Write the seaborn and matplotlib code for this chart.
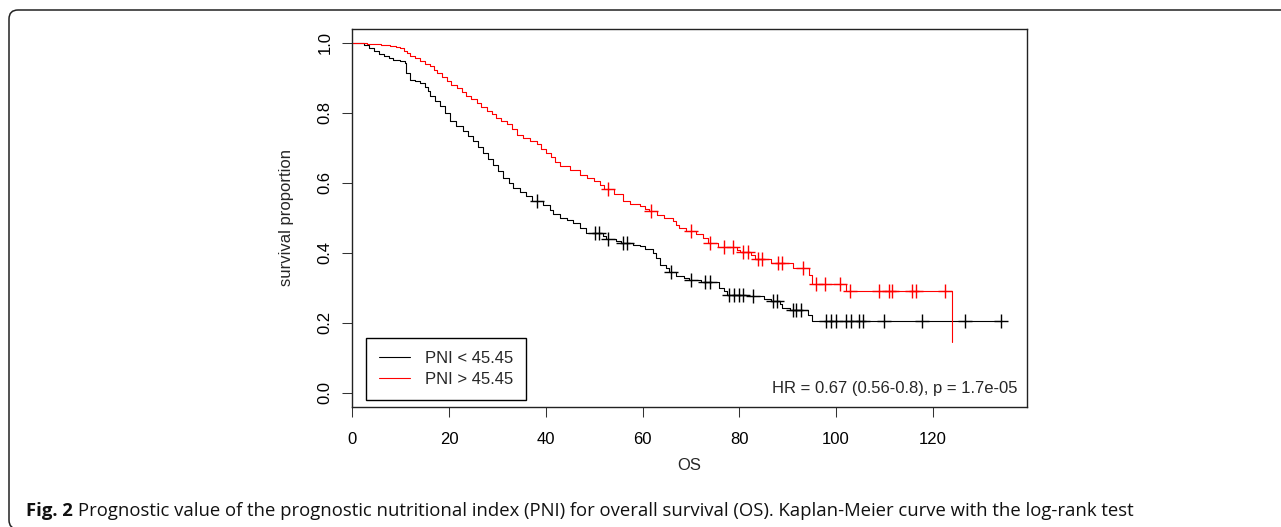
import numpy as np
import pandas as pd
import matplotlib
matplotlib.use("Agg")
import matplotlib.pyplot as plt
import seaborn as sns
from matplotlib.patches import FancyBboxPatch
from matplotlib.transforms import IdentityTransform

# Kaplan-Meier curves: event time (months) and survival after the drop
low_times = [0, 2.5, 3.5, 4.4, 5.5, 6.5, 7.5, 8.5, 9.8, 10.9, 11.2, 12.0, 13.0, 14.0,
             15.0, 15.7, 16.0, 17.0, 18.1, 19.2, 20.2, 21.5, 22.9, 24.0, 25.0, 26.0,
             27.1, 28.1, 29.1, 30.2, 31.2, 32.3, 33.3, 34.6, 36.0, 37.2, 39.5, 40.8,
             41.5, 43.0, 44.3, 45.6, 47.0, 48.4, 51.8, 52.5, 54.5, 55.5, 58.0, 59.4,
             60.5, 62.1, 62.8, 63.5, 64.8, 65.5, 67.0, 68.5, 69.7, 72.0, 75.9, 76.8,
             77.5, 82.0, 85.0, 86.5, 88.4, 88.9, 90.5, 94.1, 95.1]
low_surv = [1.0, 0.993, 0.985, 0.975, 0.968, 0.961, 0.955, 0.951, 0.946, 0.942, 0.913,
            0.894, 0.889, 0.885, 0.872, 0.861, 0.847, 0.833, 0.818, 0.799, 0.775, 0.762,
            0.747, 0.732, 0.718, 0.702, 0.685, 0.668, 0.651, 0.632, 0.613, 0.599, 0.585,
            0.573, 0.561, 0.547, 0.535, 0.523, 0.509, 0.500, 0.494, 0.485, 0.470, 0.456,
            0.447, 0.439, 0.433, 0.428, 0.423, 0.418, 0.409, 0.399, 0.385, 0.366, 0.355,
            0.344, 0.334, 0.328, 0.323, 0.315, 0.299, 0.289, 0.280, 0.275, 0.268, 0.263,
            0.252, 0.242, 0.237, 0.222, 0.205]
low_censor = [38.1, 50.1, 51.0, 52.8, 55.9, 56.8, 65.9, 70.0, 73.0, 74.0, 77.8, 79.0,
              80.0, 80.7, 82.9, 86.9, 87.8, 91.0, 91.8, 92.7, 97.9, 98.9, 99.9, 102.0,
              103.0, 104.7, 105.6, 109.9, 117.8, 126.7, 134.0]

high_times = [0, 3.0, 6.0, 7.8, 9.0, 9.9, 10.6, 11.3, 12.0, 13.0, 14.0, 15.0, 16.1, 16.8,
              17.5, 18.5, 19.5, 20.5, 21.6, 22.6, 23.6, 24.6, 25.7, 26.7, 27.8, 28.8,
              29.8, 30.8, 31.9, 33.0, 34.0, 35.3, 36.7, 38.1, 39.0, 40.1, 41.0, 42.0,
              42.9, 44.9, 47.0, 48.5, 50.0, 51.1, 52.0, 54.0, 55.9, 57.5, 59.4, 60.5,
              61.3, 63.0, 64.5, 66.2, 67.0, 67.6, 69.0, 71.0, 72.4, 73.5, 75.5, 79.5,
              80.2, 82.5, 83.3, 86.5, 91.0, 94.5, 95.1, 102.0, 123.9]
high_surv = [1.0, 0.996, 0.993, 0.990, 0.986, 0.983, 0.976, 0.970, 0.962, 0.955, 0.947,
             0.940, 0.932, 0.922, 0.913, 0.901, 0.889, 0.880, 0.870, 0.858, 0.847, 0.838,
             0.828, 0.816, 0.804, 0.795, 0.785, 0.776, 0.766, 0.752, 0.737, 0.727, 0.718,
             0.709, 0.697, 0.685, 0.672, 0.660, 0.647, 0.635, 0.623, 0.613, 0.604, 0.594,
             0.583, 0.566, 0.547, 0.540, 0.532, 0.525, 0.518, 0.508, 0.499, 0.489, 0.479,
             0.470, 0.461, 0.452, 0.442, 0.428, 0.415, 0.408, 0.401, 0.392, 0.382, 0.370,
             0.356, 0.335, 0.311, 0.289, 0.144]
high_censor = [52.8, 61.8, 70.0, 74.0, 76.9, 78.6, 80.7, 81.7, 83.8, 84.7, 87.9, 88.9,
               93.1, 95.8, 97.7, 100.8, 102.8, 108.9, 110.9, 111.6, 115.7, 116.6, 122.6]

group_labels = ["PNI < 45.45", "PNI > 45.45"]
group_colors = ["black", "red"]
x_ticks = [0, 20, 40, 60, 80, 100, 120]
y_ticks = [0.0, 0.2, 0.4, 0.6, 0.8, 1.0]
stat_text = "HR = 0.67 (0.56-0.8), p = 1.7e-05"
caption_bold = "Fig. 2"
caption_rest = ("Prognostic value of the prognostic nutritional index (PNI) for overall "
                "survival (OS). Kaplan-Meier curve with the log-rank test")


def km_frames(times, surv, censor):
    times, surv, censor = np.asarray(times), np.asarray(surv), np.asarray(censor)
    x, y = times, surv
    if censor.max() > times.max():
        x = np.append(x, censor.max())
        y = np.append(y, surv[-1])
    curve = pd.DataFrame({"time": x, "surv": y})
    idx = np.searchsorted(times, censor, side="right") - 1
    marks = pd.DataFrame({"time": censor, "surv": surv[idx]})
    return curve, marks


sns.set_theme(style="ticks")
plt.rcParams["font.family"] = ["Liberation Sans", "DejaVu Sans"]

fig = plt.figure(figsize=(12.81, 5.27), dpi=100)
ax = fig.add_axes([0.27502, 0.22827, 0.52646, 0.71765])

handles = []
groups = [(low_times, low_surv, low_censor), (high_times, high_surv, high_censor)]
for (t, s, c), color, label in zip(groups, group_colors, group_labels):
    curve, marks = km_frames(t, s, c)
    sns.lineplot(data=curve, x="time", y="surv", ax=ax, color=color, linewidth=0.8,
                 drawstyle="steps-post", sort=False, estimator=None)
    sns.scatterplot(data=marks, x="time", y="surv", ax=ax, color=color, marker="+",
                    s=100, linewidth=1.0, zorder=3)
    handles.append(ax.lines[-1])

ax.set_xlim(0, 139.4)
ax.set_ylim(-0.04, 1.04)
ax.set_xticks(x_ticks)
ax.set_yticks(y_ticks)
ax.set_xticklabels([str(v) for v in x_ticks])
ax.set_yticklabels([f"{v:.1f}" for v in y_ticks])
for lbl in ax.get_yticklabels():
    lbl.set_rotation(90)
    lbl.set_va("center")
ax.tick_params(axis="both", direction="out", length=7.2, width=0.75, color="#333333",
               labelsize=12, labelcolor="black")
ax.tick_params(axis="x", pad=11)
ax.tick_params(axis="y", pad=7)
for sp in ax.spines.values():
    sp.set_visible(True)
    sp.set_color("#222222")
    sp.set_linewidth(1.0)

ax.set_xlabel("OS", fontsize=12, labelpad=8)
ax.set_ylabel("survival proportion", fontsize=12, labelpad=17)

leg = ax.legend(handles, group_labels, loc="lower left", bbox_to_anchor=(0.0203, 0.0177),
                borderaxespad=0, frameon=True, fancybox=False, edgecolor="black",
                framealpha=1, handlelength=1.85, handletextpad=0.88, borderpad=0.8,
                labelspacing=0.33, fontsize=12)
leg.get_frame().set_linewidth(1.0)

ax.text(0.987, 0.049, stat_text, transform=ax.transAxes, ha="right", va="center",
        fontsize=12)

# rounded panel border around the whole figure
border = FancyBboxPatch((9, -2), 1300, 519, boxstyle="round,pad=0,rounding_size=9",
                        transform=IdentityTransform(), facecolor="none",
                        edgecolor="#222222", linewidth=1.1)
fig.patches.append(border)
border.set_figure(fig)

cap_y = 1 - 516.5 / 527
t_bold = fig.text(26 / 1281, cap_y, caption_bold, fontsize=13.3, fontweight="bold",
                  family=["Open Sans", "DejaVu Sans"], va="baseline", color="#111111")
fig.canvas.draw()
bb = t_bold.get_window_extent()
fig.text((bb.x1 + 5) / 1281, cap_y, caption_rest, fontsize=13.3,
         family=["Open Sans", "DejaVu Sans"], va="baseline", color="#111111")

fig.savefig("out.png", dpi=100)
